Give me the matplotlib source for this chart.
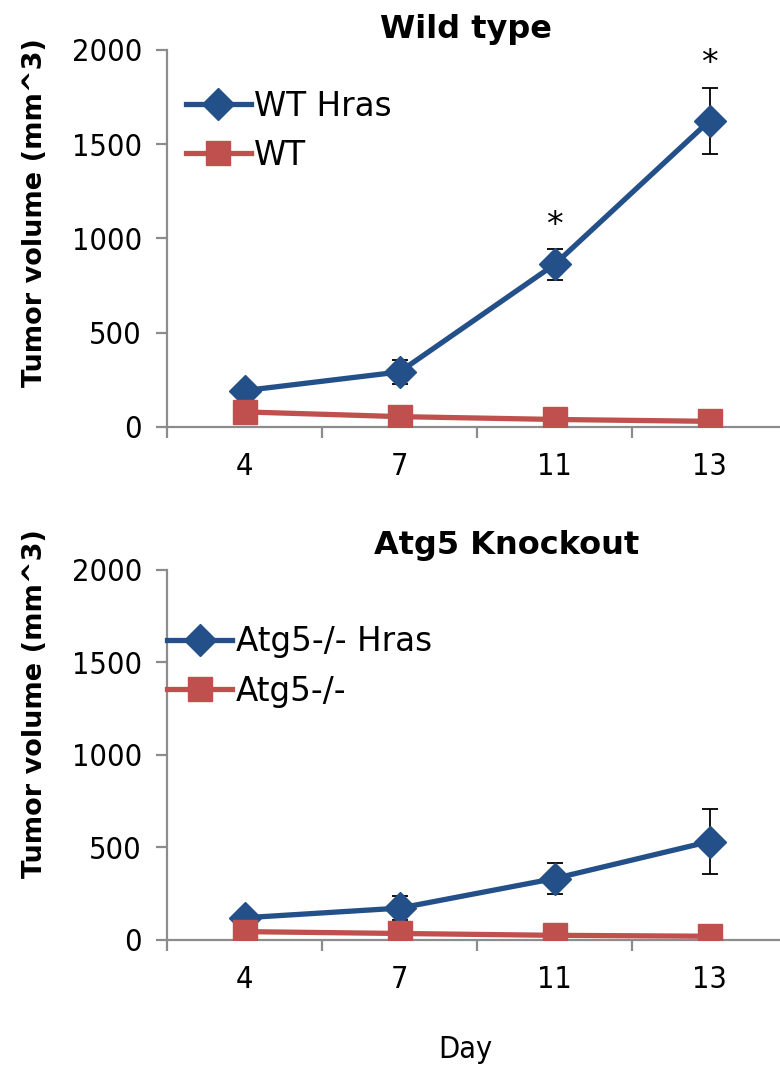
import numpy as np
import matplotlib
matplotlib.use('Agg')
import matplotlib.pyplot as plt

days = ['4', '7', '11', '13']

wt_hras = [193, 292, 862, 1625]
wt_hras_err = [20, 65, 82, 175]
wt = [80, 55, 40, 30]

ko_hras = [120, 172, 332, 532]
ko_hras_err = [15, 65, 85, 178]
ko = [45, 35, 25, 20]

stars_wt = [None, None, '*', '*']

blue = '#24508A'
red = '#C0504D'
grey = '#8C8C8C'

plt.rcParams['font.family'] = ['DejaVu Sans']

fig = plt.figure(figsize=(7.8, 10.68), dpi=100)
ax1 = fig.add_axes([0.2141, 0.6002, 0.795, 0.353])
ax2 = fig.add_axes([0.2141, 0.1199, 0.795, 0.3464])

x = np.arange(len(days))


def style(ax, label_y):
    ax.set_xlim(-0.5, 3.5)
    ax.set_ylim(0, 2000)
    ax.set_yticks([0, 500, 1000, 1500, 2000])
    for s in ['top', 'right']:
        ax.spines[s].set_visible(False)
    for s in ['left', 'bottom']:
        ax.spines[s].set_color(grey)
        ax.spines[s].set_linewidth(1.6)
    ax.set_xticks(np.arange(-0.5, 4, 1))
    ax.set_xticklabels([])
    ax.tick_params(axis='x', which='major', length=8, width=1.6, color=grey, direction='out')
    ax.set_xticks(x, minor=True)
    ax.set_xticklabels(days, minor=True, fontsize=22, fontstretch='condensed')
    ax.tick_params(axis='x', which='minor', length=0, pad=18)
    ax.tick_params(axis='y', length=8, width=1.6, color=grey, labelsize=22, pad=10)
    for t in ax.get_yticklabels():
        t.set_fontstretch('condensed')
    ax.set_ylabel('Tumor volume (mm^3)', fontsize=19.5, fontweight='bold')
    ax.yaxis.set_label_coords(-0.192, label_y)


def draw(ax, hras, hras_err, ctrl, lab1, lab2):
    ax.errorbar(x, hras, yerr=hras_err, fmt='none', ecolor='black', elinewidth=1.3,
                capsize=6, capthick=1.3, zorder=2)
    ax.plot(x, hras, color=blue, lw=3.8, marker='D', markersize=16, label=lab1, zorder=3)
    ax.plot(x, ctrl, color=red, lw=3.8, marker='s', markersize=17, label=lab2, zorder=3)


style(ax1, 0.57)
style(ax2, 0.64)

draw(ax1, wt_hras, wt_hras_err, wt, 'WT Hras', 'WT')
draw(ax2, ko_hras, ko_hras_err, ko, 'Atg5-/- Hras', 'Atg5-/-')

for i, s in enumerate(stars_wt):
    if s:
        ax1.text(x[i], wt_hras[i] + wt_hras_err[i] + 40, s, ha='center', va='bottom', fontsize=24)

ax1.legend(loc='upper left', bbox_to_anchor=(0.03, 0.895), frameon=False, fontsize=23.5,
           handlelength=2.0, handletextpad=0.1, labelspacing=0.5, borderpad=0, borderaxespad=0)
ax2.legend(loc='upper left', bbox_to_anchor=(0.0, 0.85), frameon=False, fontsize=23.5,
           handlelength=2.0, handletextpad=0.1, labelspacing=0.5, borderpad=0, borderaxespad=0)

fig.text(0.597, 0.972, 'Wild type', ha='center', va='center', fontsize=23, fontweight='bold')
fig.text(0.65, 0.489, 'Atg5 Knockout', ha='center', va='center', fontsize=23, fontweight='bold')
fig.text(0.596, 0.017, 'Day', ha='center', va='center', fontsize=22, fontstretch='condensed')

fig.savefig('out.png', dpi=100)
